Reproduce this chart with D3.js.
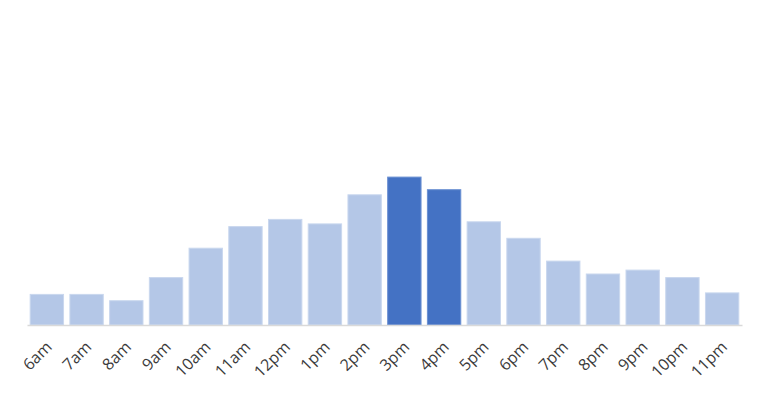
<!DOCTYPE html>
<html>
<head>
<meta charset="utf-8">
<script src="https://cdn.jsdelivr.net/npm/d3@7"></script>
<style>
  body { margin: 0; background: #fff; }
  svg { display: block; }
</style>
</head>
<body>
<div id="chart"></div>
<script>
var hours = ["6am","7am","8am","9am","10am","11am","12pm","1pm","2pm","3pm","4pm","5pm","6pm","7pm","8pm","9pm","10pm","11pm"];
var values = [1.02, 1.02, 0.81, 1.58, 2.56, 3.28, 3.52, 3.37, 4.34, 4.93, 4.51, 3.44, 2.89, 2.13, 1.70, 1.83, 1.58, 1.07];
var peakHours = ["3pm","4pm"];

function init()
{
  var width = 765, height = 400;
  var baseY = 325;

  var svg = d3.select("#chart")
    .append("svg")
    .attr("width", width)
    .attr("height", height);

  var xScale = d3.scaleBand()
    .domain(hours)
    .range([27, 742])
    .paddingInner(0.16)
    .paddingOuter(0.08);

  var yScale = d3.scaleLinear()
    .domain([0, 10])
    .range([baseY, 25]);

  // bars
  svg.selectAll(".bar")
    .data(hours)
    .enter()
    .append("rect")
      .attr("class", "bar")
      .attr("x", function(d) {return xScale(d);})
      .attr("y", function(d, i) {return yScale(values[i]);})
      .attr("width", xScale.bandwidth())
      .attr("height", function(d, i) {return baseY - yScale(values[i]);})
      .style("fill", function(d) {return peakHours.indexOf(d) >= 0 ? "#4472c4" : "#b4c7e7";})
      .style("stroke", function(d) {return peakHours.indexOf(d) >= 0 ? "#6a8fd2" : "#c9d7ee";})
      .style("stroke-width", "1");

  // x axis
  var xAxis = d3.axisBottom(xScale)
    .tickSize(0)
    .tickSizeOuter(0);

  var gx = svg.append("g")
    .attr("transform", "translate(0," + baseY + ")")
    .call(xAxis);

  gx.select(".domain")
    .style("stroke", "#d9d9d9")
    .style("stroke-width", "1.5");

  gx.selectAll(".tick text")
    .attr("x", 0)
    .attr("y", 0)
    .attr("dy", 0)
    .attr("transform", "translate(6,23) rotate(-45)")
    .style("text-anchor", "end")
    .style("font-family", "'Open Sans', 'Noto Sans', sans-serif")
    .style("font-size", "16px")
    .style("fill", "#3b3b3b");
}

window.onload = init;
</script>
</body>
</html>
